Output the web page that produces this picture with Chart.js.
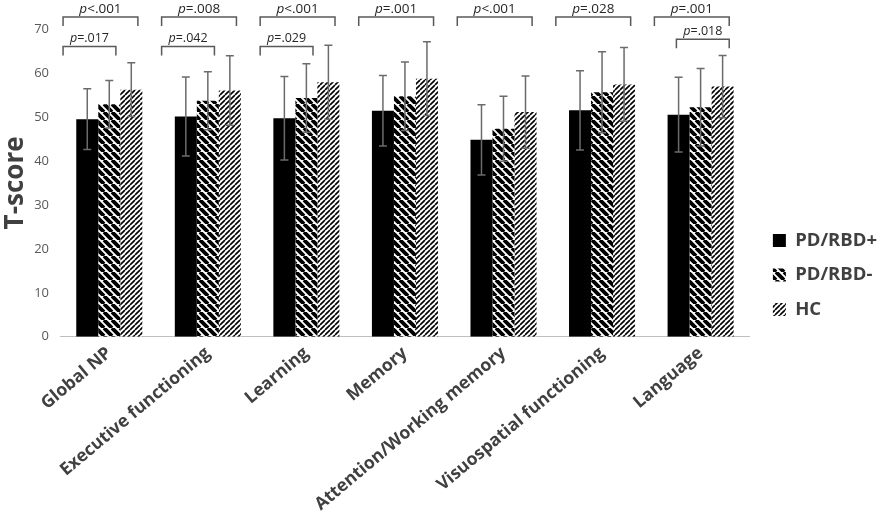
<!DOCTYPE html>
<html>
<head>
    <title>T-score por dominio</title>
    <script src="https://cdn.jsdelivr.net/npm/chart.js"></script>
    <style>
        html, body { margin: 0; padding: 0; background: #fff; }
    </style>
</head>
<body>
    <canvas id="chart" width="891" height="521"></canvas>

    <script>
        // Datos
        const categories = ['Global NP', 'Executive functioning', 'Learning', 'Memory',
            'Attention/Working memory', 'Visuospatial functioning', 'Language'];
        const groupNames = ['PD/RBD+', 'PD/RBD-', 'HC'];
        const rbdPosMean = [49.5, 50.1, 49.7, 51.4, 44.8, 51.5, 50.5];
        const rbdPosSd   = [6.9, 9.0, 9.5, 8.0, 8.0, 9.0, 8.5];
        const rbdNegMean = [52.9, 53.7, 54.3, 54.7, 47.3, 55.6, 52.2];
        const rbdNegSd   = [5.4, 6.6, 7.8, 7.8, 7.4, 9.2, 8.8];
        const hcMean     = [56.2, 56.0, 57.9, 58.7, 51.1, 57.4, 56.9];
        const hcSd       = [6.1, 7.9, 8.4, 8.4, 8.2, 8.4, 7.1];
        const yTicks = [0, 10, 20, 30, 40, 50, 60, 70];

        // Comparaciones: categoría, grupo desde, grupo hasta, valor p
        const cmpCategory = [0, 0, 1, 1, 2, 2, 3, 4, 5, 6, 6];
        const cmpFrom     = [0, 0, 0, 0, 0, 0, 0, 0, 0, 0, 1];
        const cmpTo       = [2, 1, 2, 1, 2, 1, 2, 2, 2, 2, 2];
        const cmpLabel    = ['<.001', '=.017', '=.008', '=.042', '<.001', '=.029',
            '=.001', '<.001', '=.028', '=.001', '=.018'];

        const FONT = "'Open Sans', sans-serif";
        const canvas = document.getElementById('chart');
        const ctx = canvas.getContext('2d');

        // Tramas de rayas
        function stripes(size, width, dir) {
            const c = document.createElement('canvas');
            c.width = size; c.height = size;
            const g = c.getContext('2d');
            g.fillStyle = '#fff';
            g.fillRect(0, 0, size, size);
            g.strokeStyle = '#000';
            g.lineWidth = width;
            g.beginPath();
            for (let k = -1; k <= 1; k++) {
                if (dir === 'down') { g.moveTo(k * size, 0); g.lineTo(k * size + size, size); }
                else { g.moveTo(k * size, size); g.lineTo(k * size + size, 0); }
            }
            g.stroke();
            return ctx.createPattern(c, 'repeat');
        }

        // Hueco entre el área del gráfico y la leyenda
        const legendGap = {
            id: 'legendGap',
            beforeInit(chart) {
                Chart.layouts.addBox(chart, {
                    position: 'right', weight: 0, fullSize: false, options: {},
                    left: 0, top: 0, right: 0, bottom: 0, width: 0, height: 0,
                    isHorizontal() { return false; },
                    update(w, h) { this.width = 7; this.height = h; },
                    draw() {}
                });
            }
        };

        // Barras de error (±DE)
        const errorBars = {
            id: 'errorBars',
            afterDatasetsDraw(chart) {
                const c = chart.ctx, y = chart.scales.y;
                c.save();
                c.strokeStyle = '#6b6b6b';
                c.lineWidth = 1.5;
                chart.data.datasets.forEach((ds, di) => {
                    chart.getDatasetMeta(di).data.forEach((bar, i) => {
                        const hi = y.getPixelForValue(ds.data[i] + ds.sd[i]);
                        const lo = y.getPixelForValue(ds.data[i] - ds.sd[i]);
                        c.beginPath();
                        c.moveTo(bar.x, hi); c.lineTo(bar.x, lo);
                        c.moveTo(bar.x - 4, hi); c.lineTo(bar.x + 4, hi);
                        c.moveTo(bar.x - 4, lo); c.lineTo(bar.x + 4, lo);
                        c.stroke();
                    });
                });
                c.restore();
            }
        };

        // Corchetes de significación
        const brackets = {
            id: 'brackets',
            afterDraw(chart) {
                const c = chart.ctx, y = chart.scales.y;
                c.save();
                cmpCategory.forEach((cat, k) => {
                    const a = chart.getDatasetMeta(cmpFrom[k]).data[cat];
                    const b = chart.getDatasetMeta(cmpTo[k]).data[cat];
                    const left = a.x - a.width * 1.1;
                    const right = b.x + b.width * 0.3;
                    const wide = cmpTo[k] - cmpFrom[k] === 2;
                    let tip = 70.7;
                    if (!wide) {
                        let top = 0;
                        for (let g = cmpFrom[k]; g <= cmpTo[k]; g++) {
                            const ds = chart.data.datasets[g];
                            top = Math.max(top, ds.data[cat] + ds.sd[cat]);
                        }
                        tip = Math.max(64, top + 1.6);
                    }
                    const yTip = y.getPixelForValue(tip);
                    const yLine = yTip - 9;
                    c.strokeStyle = '#595959';
                    c.lineWidth = 1.5;
                    c.beginPath();
                    c.moveTo(left, yTip); c.lineTo(left, yLine);
                    c.lineTo(right, yLine); c.lineTo(right, yTip);
                    c.stroke();

                    const size = wide ? 13.5 : 12.5;
                    c.fillStyle = '#262626';
                    c.textBaseline = 'alphabetic';
                    c.font = 'italic ' + size + 'px ' + FONT;
                    const wp = c.measureText('p').width;
                    c.font = size + 'px ' + FONT;
                    const wt = c.measureText(cmpLabel[k]).width;
                    const x0 = (left + right) / 2 - (wp + wt) / 2;
                    c.textAlign = 'left';
                    c.font = 'italic ' + size + 'px ' + FONT;
                    c.fillText('p', x0, yLine - 4);
                    c.font = size + 'px ' + FONT;
                    c.fillText(cmpLabel[k], x0 + wp, yLine - 4);
                });
                c.restore();
            }
        };

        const chart = new Chart(ctx, {
            type: 'bar',
            data: {
                labels: categories,
                datasets: [
                    { label: groupNames[0], data: rbdPosMean, sd: rbdPosSd, backgroundColor: '#000' },
                    { label: groupNames[1], data: rbdNegMean, sd: rbdNegSd, backgroundColor: stripes(8, 3.8, 'down') },
                    { label: groupNames[2], data: hcMean, sd: hcSd, backgroundColor: stripes(5, 1.6, 'up') }
                ]
            },
            options: {
                responsive: false,
                animation: false,
                layout: { padding: { top: 29, right: 4, left: 0, bottom: 0 } },
                datasets: { bar: { categoryPercentage: 0.67, barPercentage: 1.0 } },
                plugins: {
                    legend: {
                        position: 'right',
                        labels: {
                            boxWidth: 13,
                            boxHeight: 13,
                            padding: 16,
                            color: '#404040',
                            font: { family: FONT, weight: 'bold', size: 18.5 }
                        }
                    },
                    tooltip: { enabled: false }
                },
                scales: {
                    x: {
                        grid: { display: false, drawTicks: false },
                        border: { display: true, color: '#bfbfbf', width: 1 },
                        ticks: {
                            color: '#404040',
                            font: { family: FONT, weight: 'bold', size: 17.5 },
                            minRotation: 40,
                            maxRotation: 40,
                            autoSkip: false,
                            padding: 6
                        },
                        // la primera etiqueta puede salir a la izquierda, como en el original
                        afterFit: scale => { scale.paddingLeft = 0; }
                    },
                    y: {
                        min: 0,
                        max: 70,
                        grid: { display: false, drawTicks: false },
                        border: { display: false },
                        afterBuildTicks: axis => { axis.ticks = yTicks.map(v => ({ value: v })); },
                        afterFit: scale => { scale.width = 60; },
                        ticks: {
                            color: '#595959',
                            font: { family: FONT, size: 13 },
                            padding: 11
                        },
                        title: {
                            display: true,
                            text: 'T-score',
                            color: '#404040',
                            font: { family: FONT, weight: 'bold', size: 26 },
                            padding: { top: 0, bottom: 2 }
                        }
                    }
                }
            },
            plugins: [legendGap, errorBars, brackets]
        });
    </script>
</body>
</html>
